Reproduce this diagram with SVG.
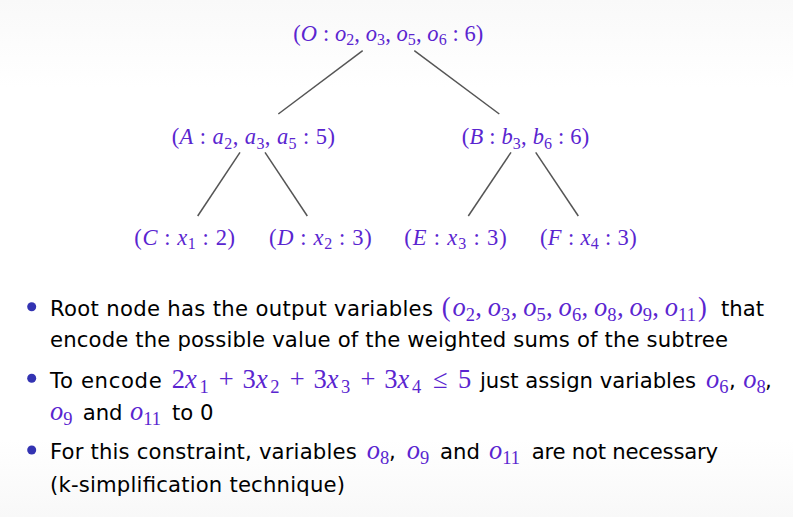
<svg xmlns="http://www.w3.org/2000/svg" width="793" height="517" viewBox="0 0 793 517">
<defs>
<linearGradient id="bg" x1="0" y1="0" x2="0" y2="1">
<stop offset="0" stop-color="#f9f9f9"/>
<stop offset="0.17" stop-color="#ffffff"/>
<stop offset="0.85" stop-color="#ffffff"/>
<stop offset="1" stop-color="#f8f8f8"/>
</linearGradient>
<style>
.m{font-family:"Liberation Serif","DejaVu Serif",serif;font-size:22.5px;fill:#5a25d0}
.b{font-family:"Liberation Serif","DejaVu Serif",serif;font-size:26.5px;fill:#5a25d0}
.i{font-style:italic}
.s{font-size:16px}
.bs{font-size:18.5px}
.t{font-family:"DejaVu Sans","Liberation Sans",sans-serif;font-size:21.2px;fill:#000}
.edge{stroke:#555;stroke-width:1.5;fill:none}
.bul{fill:#3333b2}
</style>
</defs>
<rect width="793" height="517" fill="url(#bg)"/>
<g id="connectors">
<line class="edge" x1="362.7" y1="50.7" x2="278.3" y2="114"/>
<line class="edge" x1="414.3" y1="50.7" x2="499.3" y2="114"/>
<line class="edge" x1="240" y1="152.3" x2="197.7" y2="216"/>
<line class="edge" x1="265" y1="152.3" x2="307.3" y2="216"/>
<line class="edge" x1="511" y1="152.3" x2="468.3" y2="216"/>
<line class="edge" x1="535.7" y1="152.3" x2="578.3" y2="216"/>
</g>
<g id="node-O"><text class="m" x="293.3" y="40.7" textLength="190" lengthAdjust="spacing">(<tspan class="i">O</tspan> : <tspan class="i">o</tspan><tspan class="s" dy="4.5">2</tspan><tspan dy="-4.5">, </tspan><tspan class="i">o</tspan><tspan class="s" dy="4.5">3</tspan><tspan dy="-4.5">, </tspan><tspan class="i">o</tspan><tspan class="s" dy="4.5">5</tspan><tspan dy="-4.5">, </tspan><tspan class="i">o</tspan><tspan class="s" dy="4.5">6</tspan><tspan dy="-4.5"> : 6)</tspan></text></g>
<g id="node-A"><text class="m" x="171.7" y="144" textLength="163.3" lengthAdjust="spacing">(<tspan class="i">A</tspan> : <tspan class="i">a</tspan><tspan class="s" dy="4.5">2</tspan><tspan dy="-4.5">, </tspan><tspan class="i">a</tspan><tspan class="s" dy="4.5">3</tspan><tspan dy="-4.5">, </tspan><tspan class="i">a</tspan><tspan class="s" dy="4.5">5</tspan><tspan dy="-4.5"> : 5)</tspan></text></g>
<g id="node-B"><text class="m" x="461.7" y="144" textLength="127.6" lengthAdjust="spacing">(<tspan class="i">B</tspan> : <tspan class="i">b</tspan><tspan class="s" dy="4.5">3</tspan><tspan dy="-4.5">, </tspan><tspan class="i">b</tspan><tspan class="s" dy="4.5">6</tspan><tspan dy="-4.5"> : 6)</tspan></text></g>
<g id="node-C"><text class="m" x="134.3" y="244.5" textLength="100.7" lengthAdjust="spacing">(<tspan class="i">C</tspan> : <tspan class="i">x</tspan><tspan class="s" dy="4.5">1</tspan><tspan dy="-4.5"> : 2)</tspan></text></g>
<g id="node-D"><text class="m" x="269" y="244.5" textLength="102.7" lengthAdjust="spacing">(<tspan class="i">D</tspan> : <tspan class="i">x</tspan><tspan class="s" dy="4.5">2</tspan><tspan dy="-4.5"> : 3)</tspan></text></g>
<g id="node-E"><text class="m" x="404.3" y="244.5" textLength="102.4" lengthAdjust="spacing">(<tspan class="i">E</tspan> : <tspan class="i">x</tspan><tspan class="s" dy="4.5">3</tspan><tspan dy="-4.5"> : 3)</tspan></text></g>
<g id="node-F"><text class="m" x="540" y="244.5" textLength="96.7" lengthAdjust="spacing">(<tspan class="i">F</tspan> : <tspan class="i">x</tspan><tspan class="s" dy="4.5">4</tspan><tspan dy="-4.5"> : 3)</tspan></text></g>
<g id="bullets">
<circle class="bul" cx="31.7" cy="306.7" r="4.5"/>
<circle class="bul" cx="31.7" cy="378.3" r="4.5"/>
<circle class="bul" cx="31.7" cy="450" r="4.5"/>
<text class="t" x="50" y="316" textLength="383" lengthAdjust="spacing">Root node has the output variables</text>
<text class="b" y="316"><tspan x="441.7">(</tspan><tspan class="i" x="452.4">o</tspan><tspan class="bs" x="465.7" y="321">2</tspan><tspan x="475.3" y="316">,</tspan><tspan class="i" x="487.8">o</tspan><tspan class="bs" x="501.1" y="321">3</tspan><tspan x="510.7" y="316">,</tspan><tspan class="i" x="523.2">o</tspan><tspan class="bs" x="536.5" y="321">5</tspan><tspan x="546.1" y="316">,</tspan><tspan class="i" x="558.6">o</tspan><tspan class="bs" x="571.9" y="321">6</tspan><tspan x="581.5" y="316">,</tspan><tspan class="i" x="594">o</tspan><tspan class="bs" x="607.3" y="321">8</tspan><tspan x="616.9" y="316">,</tspan><tspan class="i" x="629.4">o</tspan><tspan class="bs" x="642.7" y="321">9</tspan><tspan x="652.3" y="316">,</tspan><tspan class="i" x="664.8">o</tspan><tspan class="bs" x="678.1" y="321">11</tspan><tspan x="698" y="316">)</tspan></text>
<text class="t" x="721" y="316">that</text>
<text class="t" x="50" y="347" textLength="678" lengthAdjust="spacing">encode the possible value of the weighted sums of the subtree</text>
<text class="t" x="50" y="388" textLength="111.7" lengthAdjust="spacing">To encode</text>
<text class="b" y="388"><tspan x="171.7">2</tspan><tspan class="i" x="185.1">x</tspan><tspan class="bs" x="199.4" y="393">1</tspan><tspan x="218.8" y="388">+</tspan><tspan x="242.6">3</tspan><tspan class="i" x="256">x</tspan><tspan class="bs" x="270.3" y="393">2</tspan><tspan x="289.7" y="388">+</tspan><tspan x="313.4">3</tspan><tspan class="i" x="326.8">x</tspan><tspan class="bs" x="341.1" y="393">3</tspan><tspan x="360.5" y="388">+</tspan><tspan x="384.2">3</tspan><tspan class="i" x="397.6">x</tspan><tspan class="bs" x="411.9" y="393">4</tspan><tspan x="433" y="388">≤</tspan><tspan x="458">5</tspan></text>
<text class="t" x="480" y="388" textLength="216" lengthAdjust="spacing">just assign variables</text>
<text class="b" x="706" y="388"><tspan class="i">o</tspan><tspan class="bs" dy="5">6</tspan></text>
<text class="t" x="729" y="388">,</text>
<text class="b" x="743.3" y="388"><tspan class="i">o</tspan><tspan class="bs" dy="5">8</tspan></text>
<text class="t" x="765" y="388">,</text>
<text class="b" x="50" y="420"><tspan class="i">o</tspan><tspan class="bs" dy="5">9</tspan></text>
<text class="t" x="82.7" y="420">and</text>
<text class="b" x="130" y="420"><tspan class="i">o</tspan><tspan class="bs" dy="5">11</tspan></text>
<text class="t" x="172" y="420">to 0</text>
<text class="t" x="50" y="459" textLength="306.7" lengthAdjust="spacing">For this constraint, variables</text>
<text class="b" x="366.7" y="459"><tspan class="i">o</tspan><tspan class="bs" dy="5">8</tspan></text>
<text class="t" x="389" y="459">,</text>
<text class="b" x="406.7" y="459"><tspan class="i">o</tspan><tspan class="bs" dy="5">9</tspan></text>
<text class="t" x="440" y="459">and</text>
<text class="b" x="489" y="459"><tspan class="i">o</tspan><tspan class="bs" dy="5">11</tspan></text>
<text class="t" x="531.7" y="459" textLength="186.3" lengthAdjust="spacing">are not necessary</text>
<text class="t" x="50" y="492" textLength="295" lengthAdjust="spacing">(k-simplification technique)</text>
</g>
</svg>
